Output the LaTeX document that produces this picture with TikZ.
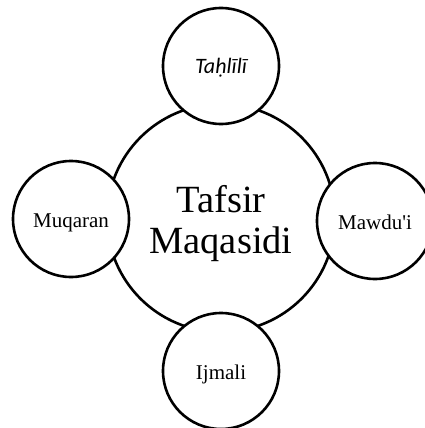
\documentclass[tikz,border=0pt]{standalone}
\usepackage{fontspec}
\setmainfont{Liberation Serif}
\newfontfamily\translitfont{Carlito}
\tikzset{
    ring/.style={circle, draw, line width=2.6pt, fill=white, inner sep=0pt},
    hub/.style={ring, minimum size=228pt},
    hubtext/.style={align=center, inner sep=0pt, font=\fontsize{38.5}{41.6}\selectfont},
    branch/.style={ring, minimum size=116pt, text height=16pt, text depth=0pt,
        font=\fontsize{21}{25}\selectfont},
}

\begin{document}
\begin{tikzpicture}[x=1pt, y=-1pt]
    \useasboundingbox (0,0) rectangle (424,428);
    \node[hub] (tafsir) at (221,218) {};
    \node[hubtext] (tafsirtext) at ([yshift=-5.7pt]tafsir.center) {Tafsir\\Maqasidi};
    \node[branch] (tahlili) at (221,66) {\translitfont\fontsize{22}{25}\selectfont\itshape Taḥlīlī};
    \node[branch] (muqaran) at (71,219) {Muqaran};
    \node[branch] (mawdui) at (375,221) {Mawdu\textquotesingle i};
    \node[branch] (ijmali) at (221,371) {Ijmali};
\end{tikzpicture}
\end{document}
